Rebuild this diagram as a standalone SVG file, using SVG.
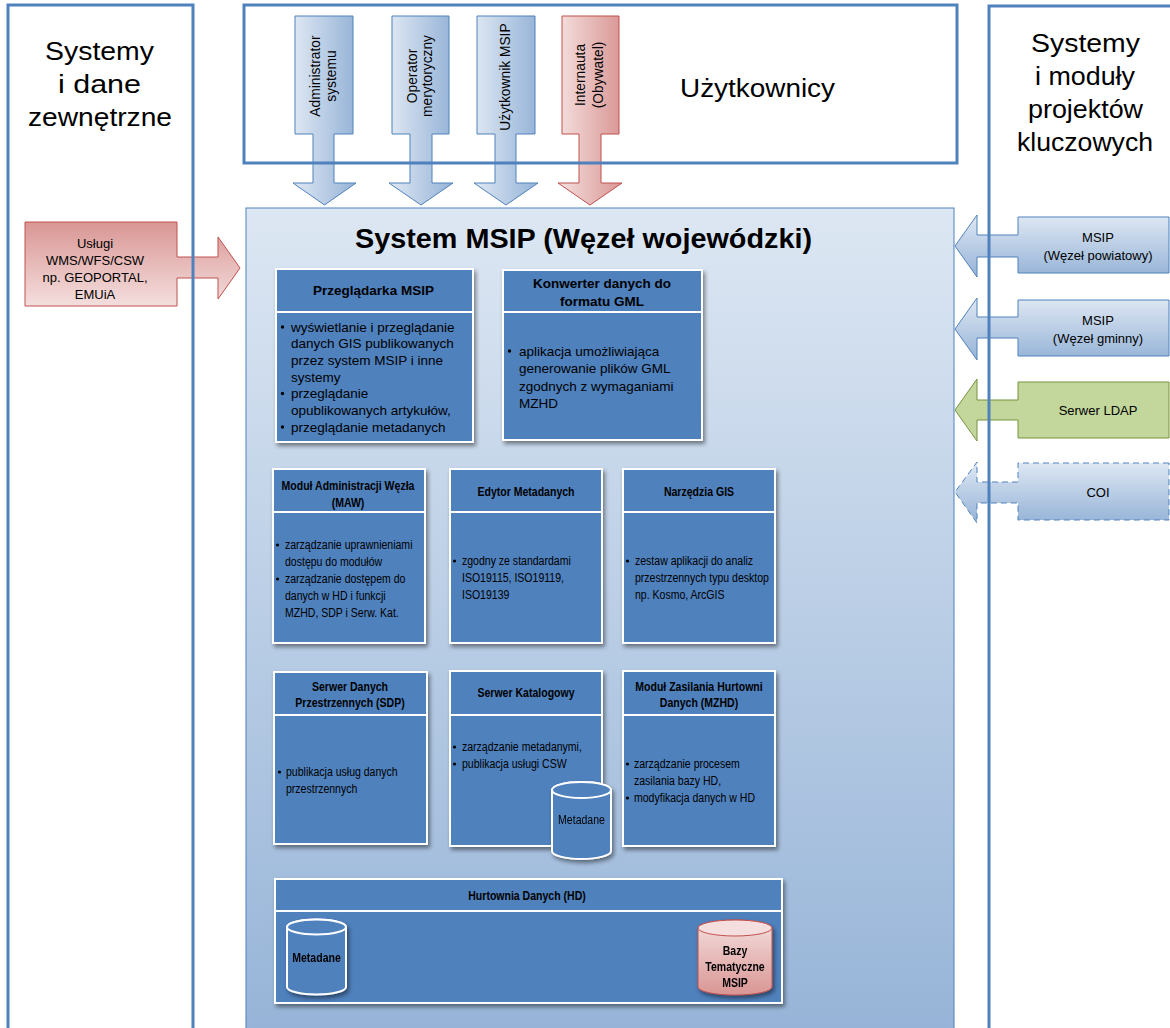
<svg xmlns="http://www.w3.org/2000/svg" width="1170" height="1028" viewBox="0 0 1170 1028">
<defs>
<linearGradient id="gMain" x1="0" y1="0" x2="0" y2="1"><stop offset="0" stop-color="#dde7f3"/><stop offset="1" stop-color="#95b3d7"/></linearGradient>
<linearGradient id="gBlueH" x1="0" y1="0" x2="1" y2="0"><stop offset="0" stop-color="#dfe8f3"/><stop offset="1" stop-color="#95b3d7"/></linearGradient>
<linearGradient id="gRedH" x1="0" y1="0" x2="1" y2="0"><stop offset="0" stop-color="#f4e0df"/><stop offset="1" stop-color="#d99694"/></linearGradient>
<linearGradient id="gRedV" x1="0" y1="0" x2="0" y2="1"><stop offset="0" stop-color="#d99694"/><stop offset="1" stop-color="#f4dfde"/></linearGradient>
<linearGradient id="gBlueV" x1="0" y1="0" x2="0" y2="1"><stop offset="0" stop-color="#dfe8f3"/><stop offset="1" stop-color="#95b3d7"/></linearGradient>
<linearGradient id="gRedCyl" x1="0" y1="0" x2="0" y2="1"><stop offset="0" stop-color="#f4dfde"/><stop offset="1" stop-color="#d99694"/></linearGradient>
<filter id="sh" x="-10%" y="-10%" width="130%" height="130%"><feDropShadow dx="2" dy="3" stdDeviation="2" flood-color="#000" flood-opacity="0.45"/></filter>
</defs>
<style>
text{font-family:"Liberation Sans",Arial,sans-serif;fill:#000}
.panel{fill:none;stroke:#4f81bd;stroke-width:3}
.big{font-size:26px;text-anchor:middle}
.arB{fill:url(#gBlueH);stroke:#4f81bd;stroke-width:1}
.arR{fill:url(#gRedH);stroke:#c0504d;stroke-width:1}
.at{font-size:13.8px;text-anchor:middle}
.rt{font-size:13px;text-anchor:middle}
.mod{fill:#4f81bd;stroke:#fff;stroke-width:2;filter:url(#sh)}
.sep{stroke:#fff;stroke-width:2}
.ht{font-size:13.5px;font-weight:bold;text-anchor:middle}
.bt{font-size:13.5px}
.bc{font-size:13.5px}
.hc{font-size:13.5px;font-weight:bold;text-anchor:middle}
.dot{fill:#000}
.cyl{fill:#4f81bd;stroke:#fff;stroke-width:2}
</style>

<!-- panel backgrounds -->
<g id="panel-bg">
<rect x="8" y="5" width="185" height="1040" fill="#fff"/>
<rect x="244" y="5" width="713" height="158" fill="#fff"/>
<rect x="989" y="6" width="200" height="1040" fill="#fff"/>
</g>

<!-- main system box -->
<g id="system-msip">
<rect x="246" y="208" width="708" height="840" fill="url(#gMain)" stroke="#4f81bd" stroke-width="1"/>
<text x="583.5" y="248" font-size="27" font-weight="bold" text-anchor="middle" textLength="457" lengthAdjust="spacingAndGlyphs">System MSIP (Węzeł wojewódzki)</text>
</g>

<g id="connectors">
<!-- top user arrows -->
<g id="arrow-admin">
<path class="arB" d="M295,16 H353 V134 H334 V183 H356 L324.5,205 L293,183 H313 V134 H295 Z"/>
<text class="at" transform="translate(324,76) rotate(-90)"><tspan x="0" y="-4.5">Administrator</tspan><tspan x="0" y="11.5">systemu</tspan></text>
</g>
<g id="arrow-operator">
<path class="arB" d="M392,16 H449 V134 H432 V183 H453 L421,205 L389,183 H410 V134 H392 Z"/>
<text class="at" transform="translate(420.5,76) rotate(-90)"><tspan x="0" y="-4">Operator</tspan><tspan x="0" y="11.5">merytoryczny</tspan></text>
</g>
<g id="arrow-uzytkownik">
<path class="arB" d="M477,16 H535 V134 H516 V183 H538 L506,205 L474,183 H495 V134 H477 Z"/>
<text class="at" transform="translate(506,77) rotate(-90)" x="0" y="4">Użytkownik MSIP</text>
</g>
<g id="arrow-internauta">
<path class="arR" d="M562,16 H619 V134 H601 V183 H622 L590,205 L558,183 H579 V134 H562 Z"/>
<text class="at" transform="translate(590.5,75) rotate(-90)"><tspan x="0" y="-5.5">Internauta</tspan><tspan x="0" y="12">(Obywatel)</tspan></text>
</g>
<!-- left arrow -->
<g id="arrow-uslugi">
<path d="M25,222 H177 V257 H218 V237 L240,268 L218,299 V278 H177 V306 H25 Z" fill="url(#gRedV)" stroke="#c0504d" stroke-width="1"/>
<text class="rt" x="95" y="248">Usługi</text>
<text class="rt" x="95" y="265">WMS/WFS/CSW</text>
<text class="rt" x="95" y="282">np. GEOPORTAL,</text>
<text class="rt" x="95" y="299">EMUiA</text>
</g>
<!-- right arrows -->
<g id="arrow-powiatowy">
<path d="M1169,217 H1018 V235 H977 V215 L955,246 L977,277 V257 H1018 V273 H1169 Z" fill="url(#gBlueV)" stroke="#4f81bd" stroke-width="1"/>
<text class="rt" x="1098" y="241.5">MSIP</text>
<text class="rt" x="1098" y="259.5">(Węzeł powiatowy)</text>
</g>
<g id="arrow-gminny">
<path d="M1169,300 H1018 V317 H977 V298 L955,329 L977,360 V338 H1018 V356 H1169 Z" fill="url(#gBlueV)" stroke="#4f81bd" stroke-width="1"/>
<text class="rt" x="1098" y="324.5">MSIP</text>
<text class="rt" x="1098" y="342.5">(Węzeł gminny)</text>
</g>
<g id="arrow-ldap">
<path d="M1169,382 H1018 V400 H977 V379 L955,410 L977,441 V420 H1018 V438 H1169 Z" fill="#c3d69b" stroke="#77933c" stroke-width="1"/>
<text class="rt" x="1098" y="414.5">Serwer LDAP</text>
</g>
<g id="arrow-coi">
<path d="M1169,463 H1018 V482 H977 V462 L955,492 L977,523 V503 H1018 V520 H1169 Z" fill="url(#gBlueV)" stroke="#4f81bd" stroke-width="1" stroke-dasharray="6,4"/>
<text class="rt" x="1098" y="496.5">COI</text>
</g>
</g>

<!-- panel borders and labels -->
<g id="panel-zewnetrzne">
<rect class="panel" x="8" y="5" width="185" height="1040"/>
<text class="big" x="99.5" y="60" textLength="109" lengthAdjust="spacingAndGlyphs">Systemy</text>
<text class="big" x="99.5" y="93" textLength="83" lengthAdjust="spacingAndGlyphs">i dane</text>
<text class="big" x="100" y="126" textLength="144" lengthAdjust="spacingAndGlyphs">zewnętrzne</text>
</g>
<g id="panel-uzytkownicy">
<rect class="panel" x="244" y="5" width="713" height="158"/>
<text x="757.5" y="97" font-size="25" text-anchor="middle" textLength="155" lengthAdjust="spacingAndGlyphs">Użytkownicy</text>
</g>
<g id="panel-projekty">
<rect class="panel" x="989" y="6" width="200" height="1040"/>
<text class="big" x="1085.5" y="52" textLength="109" lengthAdjust="spacingAndGlyphs">Systemy</text>
<text class="big" x="1085" y="85" textLength="100" lengthAdjust="spacingAndGlyphs">i moduły</text>
<text class="big" x="1085.5" y="118" textLength="115" lengthAdjust="spacingAndGlyphs">projektów</text>
<text class="big" x="1085" y="151" textLength="136" lengthAdjust="spacingAndGlyphs">kluczowych</text>
</g>

<!-- modules -->
<g id="przegladarka">
<rect class="mod" x="276" y="269" width="197" height="173"/>
<line class="sep" x1="276" y1="312" x2="473" y2="312"/>
<text class="ht" x="373.5" y="295">Przeglądarka MSIP</text>
<circle class="dot" cx="282.5" cy="327" r="1.7"/>
<circle class="dot" cx="282.5" cy="393.5" r="1.7"/>
<circle class="dot" cx="282.5" cy="427" r="1.7"/>
<text class="bt" x="291" y="331.5">wyświetlanie i przeglądanie</text>
<text class="bt" x="291" y="348">danych GIS publikowanych</text>
<text class="bt" x="291" y="365">przez system MSIP i inne</text>
<text class="bt" x="291" y="381.5">systemy</text>
<text class="bt" x="291" y="398">przeglądanie</text>
<text class="bt" x="291" y="415">opublikowanych artykułów,</text>
<text class="bt" x="291" y="431.5">przeglądanie metadanych</text>
</g>

<g id="konwerter">
<rect class="mod" x="503" y="270" width="199" height="170"/>
<line class="sep" x1="503" y1="312" x2="702" y2="312"/>
<text class="ht" x="602" y="288">Konwerter danych do</text>
<text class="ht" x="602" y="306">formatu GML</text>
<circle class="dot" cx="509.5" cy="351" r="1.7"/>
<text class="bt" x="519" y="355.5">aplikacja umożliwiająca</text>
<text class="bt" x="519" y="373">generowanie plików GML</text>
<text class="bt" x="519" y="390.5">zgodnych z wymaganiami</text>
<text class="bt" x="519" y="408">MZHD</text>
</g>

<g id="maw">
<rect class="mod" x="273" y="469" width="152" height="174"/>
<line class="sep" x1="273" y1="512" x2="425" y2="512"/>
<text class="hc" transform="translate(348,490) scale(0.78,1)">Moduł Administracji Węzła</text>
<text class="hc" transform="translate(348,507) scale(0.78,1)">(MAW)</text>
<circle class="dot" cx="277.5" cy="545" r="1.6"/>
<circle class="dot" cx="277.5" cy="579" r="1.6"/>
<text class="bc" transform="translate(285,549) scale(0.78,1)">zarządzanie uprawnieniami</text>
<text class="bc" transform="translate(285,566) scale(0.78,1)">dostępu do modułów</text>
<text class="bc" transform="translate(285,583) scale(0.78,1)">zarządzanie dostępem do</text>
<text class="bc" transform="translate(285,600) scale(0.78,1)">danych w HD i funkcji</text>
<text class="bc" transform="translate(285,617) scale(0.78,1)">MZHD, SDP i Serw. Kat.</text>
</g>

<g id="edytor">
<rect class="mod" x="450" y="469" width="152" height="174"/>
<line class="sep" x1="450" y1="512" x2="602" y2="512"/>
<text class="hc" transform="translate(526,496) scale(0.78,1)">Edytor Metadanych</text>
<circle class="dot" cx="454.5" cy="561" r="1.6"/>
<text class="bc" transform="translate(462,565) scale(0.78,1)">zgodny ze standardami</text>
<text class="bc" transform="translate(462,582) scale(0.78,1)">ISO19115, ISO19119,</text>
<text class="bc" transform="translate(462,599) scale(0.78,1)">ISO19139</text>
</g>

<g id="narzedzia-gis">
<rect class="mod" x="623" y="469" width="152" height="174"/>
<line class="sep" x1="623" y1="512" x2="775" y2="512"/>
<text class="hc" transform="translate(699,496) scale(0.78,1)">Narzędzia GIS</text>
<circle class="dot" cx="627.5" cy="561" r="1.6"/>
<text class="bc" transform="translate(635,565) scale(0.78,1)">zestaw aplikacji do analiz</text>
<text class="bc" transform="translate(635,582) scale(0.78,1)">przestrzennych typu desktop</text>
<text class="bc" transform="translate(635,599) scale(0.78,1)">np. Kosmo, ArcGIS</text>
</g>

<g id="sdp">
<rect class="mod" x="274" y="672" width="153" height="172"/>
<line class="sep" x1="274" y1="715" x2="427" y2="715"/>
<text class="hc" transform="translate(350,691) scale(0.78,1)">Serwer Danych</text>
<text class="hc" transform="translate(350,707) scale(0.78,1)">Przestrzennych (SDP)</text>
<circle class="dot" cx="279.5" cy="772" r="1.6"/>
<text class="bc" transform="translate(286,776) scale(0.78,1)">publikacja usług danych</text>
<text class="bc" transform="translate(286,793) scale(0.78,1)">przestrzennych</text>
</g>

<g id="serwer-katalogowy">
<rect class="mod" x="450" y="671" width="152" height="175"/>
<line class="sep" x1="450" y1="715" x2="602" y2="715"/>
<text class="hc" transform="translate(526,697) scale(0.78,1)">Serwer Katalogowy</text>
<circle class="dot" cx="454.5" cy="747" r="1.6"/>
<circle class="dot" cx="454.5" cy="764" r="1.6"/>
<text class="bc" transform="translate(462,751) scale(0.78,1)">zarządzanie metadanymi,</text>
<text class="bc" transform="translate(462,768) scale(0.78,1)">publikacja usługi CSW</text>
</g>
<g id="metadane-katalog" filter="url(#sh)">
<path class="cyl" d="M552,790 V851 A29.5,8 0 0 0 611,851 V790 A29.5,8 0 0 0 552,790 Z"/>
<ellipse class="cyl" cx="581.5" cy="790" rx="29.5" ry="8"/>
<text class="bc" text-anchor="middle" transform="translate(581.5,824) scale(0.78,1)">Metadane</text>
</g>

<g id="mzhd">
<rect class="mod" x="623" y="671" width="152" height="175"/>
<line class="sep" x1="623" y1="715" x2="775" y2="715"/>
<text class="hc" transform="translate(699,691) scale(0.78,1)">Moduł Zasilania Hurtowni</text>
<text class="hc" transform="translate(699,707) scale(0.78,1)">Danych (MZHD)</text>
<circle class="dot" cx="627.5" cy="764" r="1.6"/>
<circle class="dot" cx="627.5" cy="798" r="1.6"/>
<text class="bc" transform="translate(634,768) scale(0.78,1)">zarządzanie procesem</text>
<text class="bc" transform="translate(634,785) scale(0.78,1)">zasilania bazy HD,</text>
<text class="bc" transform="translate(634,802) scale(0.78,1)">modyfikacja danych w HD</text>
</g>

<g id="hurtownia">
<rect class="mod" x="275" y="879" width="507" height="124"/>
<line class="sep" x1="275" y1="911" x2="782" y2="911"/>
<text class="hc" transform="translate(527,900) scale(0.78,1)">Hurtownia Danych (HD)</text>
</g>
<g id="metadane-hd" filter="url(#sh)">
<path class="cyl" d="M287,927 V987 A29.5,7.5 0 0 0 346,987 V927 A29.5,7.5 0 0 0 287,927 Z"/>
<ellipse class="cyl" cx="316.5" cy="927" rx="29.5" ry="7.5"/>
<text class="hc" font-size="14" transform="translate(316.5,962) scale(0.78,1)">Metadane</text>
</g>
<g id="bazy-tematyczne" filter="url(#sh)">
<path d="M698,928 V987 A37,8 0 0 0 772,987 V928 A37,8 0 0 0 698,928 Z" fill="url(#gRedCyl)" stroke="#c0504d" stroke-width="1"/>
<ellipse cx="735" cy="928" rx="37" ry="8" fill="#f4dfde" stroke="#c0504d" stroke-width="1"/>
<text class="hc" font-size="14" transform="translate(735,955) scale(0.78,1)">Bazy</text>
<text class="hc" font-size="14" transform="translate(735,971) scale(0.78,1)">Tematyczne</text>
<text class="hc" font-size="14" transform="translate(735,987) scale(0.78,1)">MSIP</text>
</g>
</svg>
